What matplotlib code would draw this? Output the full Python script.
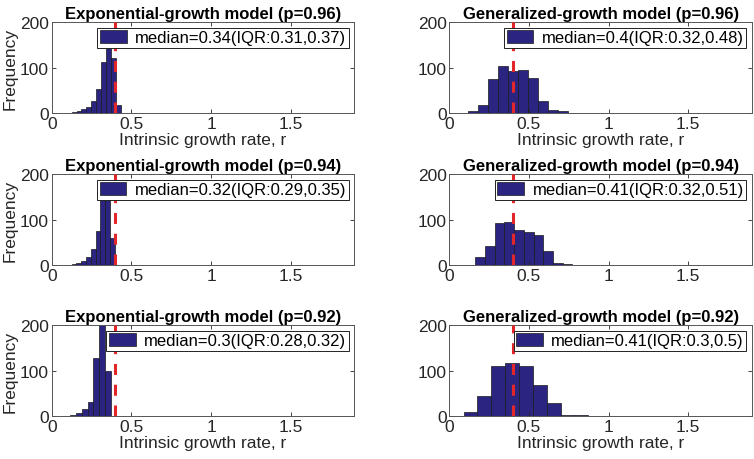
import numpy as np
import matplotlib
matplotlib.use("Agg")
import matplotlib.pyplot as plt

plt.rcParams['font.family'] = ['Liberation Sans', 'DejaVu Sans']

# Données : histogrammes (10 classes, bornes min/max)
titres = [
    "Exponential-growth model (p=0.96)", "Generalized-growth model (p=0.96)",
    "Exponential-growth model (p=0.94)", "Generalized-growth model (p=0.94)",
    "Exponential-growth model (p=0.92)", "Generalized-growth model (p=0.92)",
]
legendes = [
    "median=0.34(IQR:0.31,0.37)", "median=0.4(IQR:0.32,0.48)",
    "median=0.32(IQR:0.29,0.35)", "median=0.41(IQR:0.32,0.51)",
    "median=0.3(IQR:0.28,0.32)", "median=0.41(IQR:0.3,0.5)",
]
bornes = [
    (0.125, 0.433), (0.120, 0.745),
    (0.094, 0.396), (0.162, 0.773),
    (0.009, 0.369), (0.003, 0.872),
]
effectifs = [
    [2, 5, 10, 13, 28, 54, 112, 150, 121, 18],
    [5, 19, 75, 104, 93, 94, 77, 28, 7, 4],
    [1, 2, 6, 10, 19, 35, 76, 148, 152, 59],
    [19, 43, 92, 95, 78, 74, 67, 32, 6, 2],
    [1, 0, 1, 3, 7, 15, 32, 128, 210, 99],
    [1, 10, 45, 111, 117, 111, 68, 30, 3, 2],
]
r_vrai = 0.4

couleur_barre = '#2B2480'
couleur_rouge = '#E3262A'

fig = plt.figure(figsize=(7.54, 4.60), dpi=100)

gauche = [0.0686, 0.5959]
bas = [0.7515, 0.4211, 0.0930]
largeur, hauteur = 0.4015, 0.1985

for i in range(6):
    ligne, col = divmod(i, 2)
    ax = fig.add_axes([gauche[col], bas[ligne], largeur, hauteur])

    lo, hi = bornes[i]
    bords = np.linspace(lo, hi, len(effectifs[i]) + 1)
    ax.bar(bords[:-1], effectifs[i], width=np.diff(bords), align='edge',
           color=couleur_barre, edgecolor='#1a1a1a', linewidth=0.5,
           label=legendes[i])
    ax.axvline(r_vrai, color=couleur_rouge, linewidth=2.2,
               dashes=(3.6, 3.2), zorder=3)

    ax.set_xlim(0, 1.9)
    ax.set_ylim(0, 200)
    ax.set_xticks([0, 0.5, 1, 1.5])
    ax.set_xticklabels(['0', '0.5', '1', '1.5'])
    ax.set_yticks([0, 100, 200])
    ax.tick_params(direction='in', top=True, right=True, length=3,
                   width=0.6, labelsize=12.5, colors='#262626', pad=2)
    for s in ax.spines.values():
        s.set_color('#555555')
        s.set_linewidth(0.7)

    ax.set_title(titres[i], fontsize=12, fontweight='bold', pad=3)
    if col == 0:
        ax.set_ylabel("Frequency", fontsize=12.5, color='#262626', labelpad=2)
    if ligne != 1:
        ax.set_xlabel("Intrinsic growth rate, r", fontsize=12.5,
                      color='#262626', labelpad=1)

    leg = ax.legend(loc='upper right', fontsize=12, frameon=True,
                    fancybox=False, framealpha=1, edgecolor='#222222',
                    borderaxespad=0.35, borderpad=0.15, handlelength=1.6,
                    handleheight=0.8, handletextpad=0.5)
    leg.get_frame().set_linewidth(0.7)
    leg.set_zorder(5)

plt.savefig("out.png", dpi=100)
